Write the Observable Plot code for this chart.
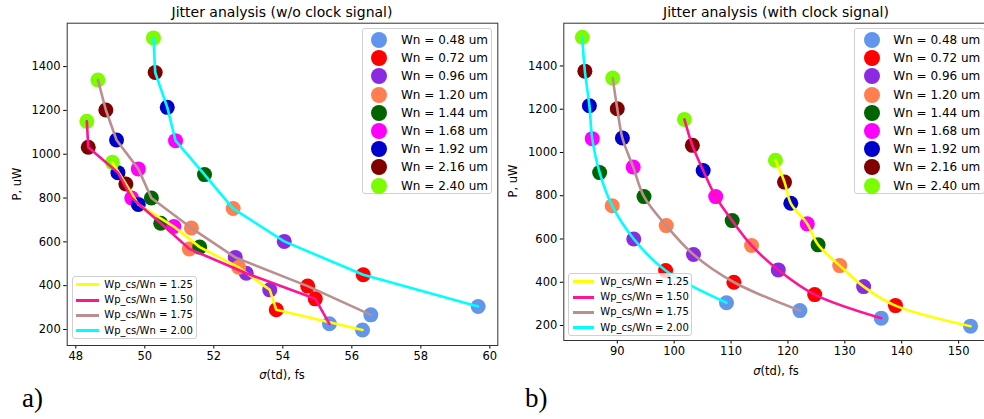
<!DOCTYPE html>
<html><head><meta charset="utf-8">
<script src="https://cdn.jsdelivr.net/npm/d3@7"></script>
<script src="https://cdn.jsdelivr.net/npm/@observablehq/plot@0.6"></script>
<style>
body{margin:0;background:#fff;}
#page{position:relative;width:984px;height:419px;overflow:hidden;background:#fff;font-family:"DejaVu Sans",sans-serif;color:#000;}
.abs{position:absolute;white-space:nowrap;}
.title{font-size:14px;transform:translate(-50%,-50%);}
.xlab{font-size:11.5px;transform:translate(-50%,-50%);}
.ylab{font-size:11.5px;transform:translate(-50%,-50%) rotate(-90deg);}
.pl{font-family:"Liberation Serif",serif;font-size:27px;}
.leg{border:1px solid #d0d0d0;border-radius:3px;background:rgba(255,255,255,0.8);box-sizing:border-box;}
.row{position:absolute;}
.wn{font-size:12px;}
.wp{font-size:10px;}
.dotm{position:absolute;border-radius:50%;}
.linem{position:absolute;height:3px;}
</style></head><body><div id="page"></div>
<script>
// categories
const wnLabels = ["Wn = 0.48 um","Wn = 0.72 um","Wn = 0.96 um","Wn = 1.20 um","Wn = 1.44 um","Wn = 1.68 um","Wn = 1.92 um","Wn = 2.16 um","Wn = 2.40 um"];
const wnColors = ["#6495ed","#ff0000","#8a2be2","#ff7f50","#006400","#ff00ff","#0000cd","#800000","#7cfc00"];
const ratioLabels = ["Wp_cs/Wn = 1.25","Wp_cs/Wn = 1.50","Wp_cs/Wn = 1.75","Wp_cs/Wn = 2.00"];
const ratioColors = ["#ffff00","#ff1493","#bc8f8f","#00ffff"];
const titles = ["Jitter analysis (w/o clock signal)","Jitter analysis (with clock signal)"];
const xLabelSym = "\u03c3";
const xLabelRest = "(td), fs";
const yLabel = "P, uW";
const panelLabels = ["a)","b)"];
// ticks
const xTicksA = [48,50,52,54,56,58,60];
const xTicksB = [90,100,110,120,130,140,150];
const yTicks = [200,400,600,800,1000,1200,1400];
// panel a (w/o clock): sigma (fs) and P (uW), Wn from 0.48 to 2.40
const sigA125 = [56.31,53.81,53.62,52.72,51.59,50.84,49.81,49.45,49.06];
const powA125 = [198,290,381,484,576,670,771,864,963];
const sigA150 = [55.35,54.94,52.94,51.29,50.46,49.62,49.22,48.36,48.32];
const powA150 = [226,340,457,568,685,800,916,1032,1150];
const sigA175 = [56.55,54.72,52.62,51.35,50.19,49.81,49.18,48.87,48.64];
const powA175 = [267,398,529,663,800,933,1065,1202,1339];
const sigA200 = [59.66,56.33,54.04,52.56,51.73,50.89,50.65,50.30,50.25];
const powA200 = [305,450,602,752,907,1062,1214,1373,1531];
// panel b (with clock)
const sigB125 = [152.1,138.9,133.3,129.1,125.3,123.4,120.5,119.4,117.8];
const powB125 = [197,292,380,477,573,670,765,863,964];
const sigB150 = [136.4,124.7,118.3,113.6,110.2,107.3,105.1,103.2,101.8];
const powB150 = [234,343,457,570,685,796,917,1033,1153];
const sigB175 = [122.1,110.5,103.4,98.6,94.7,92.8,90.9,90.0,89.2];
const powB175 = [269,400,528,662,796,933,1067,1202,1344];
const sigB200 = [109.2,98.5,92.9,89.1,86.9,85.6,85.1,84.3,83.85];
const powB200 = [305,454,600,754,907,1064,1216,1376,1533];

function rowsOf(sigs, pows){
  const rows = [];
  sigs.forEach((s, r) => s.forEach((v, i) => rows.push({ratio: r, wn: i, sigma: v, p: pows[r][i]})));
  return rows;
}
const rowsA = rowsOf([sigA125,sigA150,sigA175,sigA200],[powA125,powA150,powA175,powA200]);
const rowsB = rowsOf([sigB125,sigB150,sigB175,sigB200],[powB125,powB150,powB175,powB200]);

const page = document.getElementById("page");

function panel(rows, opt){
  const dotRows = rows.slice().sort((a,b)=> a.wn - b.wn || a.ratio - b.ratio);
  const svg = Plot.plot({
    width: opt.width, height: 419,
    marginLeft: opt.ml, marginRight: opt.mr, marginTop: opt.mt, marginBottom: opt.mb,
    style: {fontFamily: "DejaVu Sans", fontSize: "11.5px", color: "#000", background: "transparent", overflow: "visible"},
    x: {domain: opt.xd, ticks: opt.xt, tickSize: 3.5, tickPadding: 3, tickFormat: "d", label: null},
    y: {domain: opt.yd, ticks: yTicks, tickSize: 3.5, tickPadding: 3, tickFormat: "d", label: null},
    color: {type: "identity"},
    marks: [
      Plot.dot(dotRows, {x: "sigma", y: "p", r: 7.5, fill: d => wnColors[d.wn], stroke: "none"}),
      Plot.line(rows, {x: "sigma", y: "p", z: "ratio", stroke: d => ratioColors[d.ratio], strokeWidth: 2.6, curve: opt.curve}),
      Plot.frame({stroke: "#333", strokeWidth: 1})
    ]
  });
  svg.style.position = "absolute";
  svg.style.left = opt.left + "px";
  svg.style.top = "0px";
  page.appendChild(svg);
}

panel(rowsA, {left: 0, width: 510, ml: 66.7, mr: 12.7, mt: 22.7, mb: 74, xd: [47.75, 60.23], yd: [127, 1598], xt: xTicksA, curve: "linear"});
panel(rowsB, {left: 500, width: 500, ml: 63.3, mr: 10.6, mt: 22.7, mb: 79, xd: [80.6, 155.5], yd: [130.7, 1597.7], xt: xTicksB, curve: "catmull-rom"});

function addText(cls, txt, x, y){
  const d = document.createElement("div");
  d.className = "abs " + cls;
  d.textContent = txt;
  d.style.left = x + "px"; d.style.top = y + "px";
  page.appendChild(d);
  return d;
}
function addXLabel(x, y){
  const d = addText("xlab", "", x, y);
  const s = document.createElement("span");
  s.style.fontStyle = "italic"; s.textContent = xLabelSym;
  d.appendChild(s);
  d.appendChild(document.createTextNode(xLabelRest));
}
addText("title", titles[0], 282, 12);
addText("title", titles[1], 776, 12);
addXLabel(282, 375);
addXLabel(776, 371);
addText("ylab", yLabel, 17, 184);
addText("ylab", yLabel, 513, 181);
addText("pl", panelLabels[0], 22, 383);
addText("pl", panelLabels[1], 525, 383);

function wnLegend(left, top, width, markX, textX){
  const box = document.createElement("div");
  box.className = "abs leg";
  const n = wnLabels.length, step = 18.2;
  box.style.left = left + "px"; box.style.top = top + "px";
  box.style.width = width + "px"; box.style.height = (n * step + 2.5) + "px";
  wnLabels.forEach((lab, i) => {
    const cy = 11 + i * step;
    const m = document.createElement("div");
    m.className = "dotm";
    m.style.width = "16px"; m.style.height = "16px";
    m.style.left = (markX - 8) + "px"; m.style.top = (cy - 8) + "px";
    m.style.background = wnColors[i];
    box.appendChild(m);
    const t = document.createElement("div");
    t.className = "row wn"; t.textContent = lab;
    t.style.left = textX + "px"; t.style.top = (cy - 8) + "px"; t.style.lineHeight = "16px";
    box.appendChild(t);
  });
  page.appendChild(box);
}
wnLegend(361.7, 28, 130, 16.3, 38.3);
wnLegend(854, 28, 131, 16.7, 38.3);

function wpLegend(left, top, width, lineX, lineW, textX){
  const box = document.createElement("div");
  box.className = "abs leg";
  const n = ratioLabels.length, step = 15.35;
  box.style.left = left + "px"; box.style.top = top + "px";
  box.style.width = width + "px"; box.style.height = ((n - 1) * step + 17) + "px";
  ratioLabels.forEach((lab, i) => {
    const cy = 8 + i * step;
    const l = document.createElement("div");
    l.className = "linem";
    l.style.left = lineX + "px"; l.style.width = lineW + "px"; l.style.top = (cy - 1.5) + "px";
    l.style.background = ratioColors[i];
    box.appendChild(l);
    const t = document.createElement("div");
    t.className = "row wp"; t.textContent = lab;
    t.style.left = textX + "px"; t.style.top = (cy - 7) + "px"; t.style.lineHeight = "14px";
    box.appendChild(t);
  });
  page.appendChild(box);
}
wpLegend(71.7, 275.7, 125, 3.3, 23.3, 31.6);
wpLegend(568.3, 272.7, 123.4, 3.4, 21.6, 31);
</script>
</body></html>
